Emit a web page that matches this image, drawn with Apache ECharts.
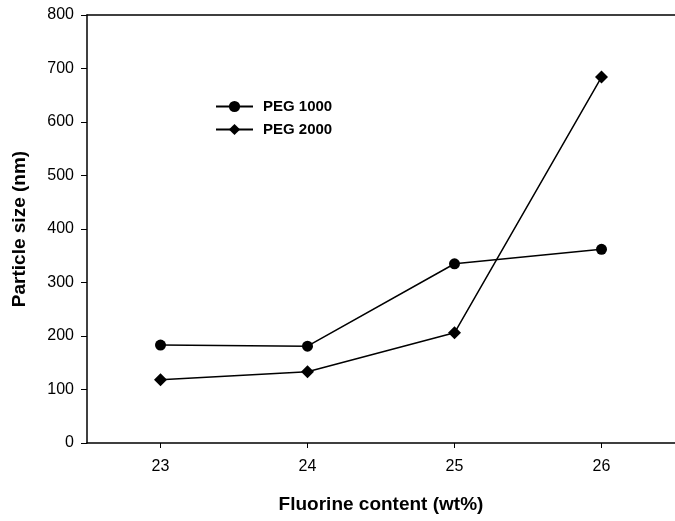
<!DOCTYPE html>
<html><head><meta charset="utf-8">
<script src="https://cdn.jsdelivr.net/npm/echarts@6/dist/echarts.min.js"></script>
<style>html,body{margin:0;padding:0;background:#fff}#c{width:675px;height:521px}</style>
</head><body><div id="c"></div>
<script>
const categories = [23, 24, 25, 26];
const peg1000 = [183, 181, 335, 362];
const peg2000 = [118, 133, 206, 684];
const yTicks = [0, 100, 200, 300, 400, 500, 600, 700, 800];
const seriesNames = ['PEG 1000', 'PEG 2000'];

const chart = echarts.init(document.getElementById('c'));
const font = 'Liberation Sans, Arial, sans-serif';
chart.setOption({
  animation: false,
  backgroundColor: '#fff',
  grid: { left: 87, top: 15, width: 590, height: 428, containLabel: false },
  legend: {
    orient: 'vertical', left: 210, top: 94, itemWidth: 37, itemHeight: 14, itemGap: 8,
    textStyle: { fontFamily: font, fontSize: 15, fontWeight: 'bold', color: '#000', padding: [0, 0, 0, 5] },
    data: seriesNames
  },
  xAxis: [{
    type: 'value', min: 22.5, max: 26.5, interval: 0.5,
    name: 'Fluorine content (wt%)', nameLocation: 'middle', nameGap: 52,
    nameTextStyle: { fontFamily: font, fontSize: 19, fontWeight: 'bold', color: '#000' },
    axisLine: { lineStyle: { color: '#000', width: 1.5 } },
    axisTick: { show: true, length: 5, lineStyle: { color: '#000' },
      customValues: categories },
    axisLabel: { fontFamily: font, fontSize: 16, color: '#000', margin: 16,
      customValues: categories },
    splitLine: { show: false }
  }, {
    type: 'value', position: 'top', min: 22.5, max: 26.5,
    axisLine: { show: true, lineStyle: { color: '#000', width: 1.5 } },
    axisTick: { show: false }, axisLabel: { show: false }, splitLine: { show: false }
  }],
  yAxis: {
    type: 'value', min: 0, max: 800, interval: 100,
    name: 'Particle size (nm)', nameLocation: 'middle', nameGap: 58,
    nameTextStyle: { fontFamily: font, fontSize: 19, fontWeight: 'bold', color: '#000' },
    axisLine: { show: true, lineStyle: { color: '#000', width: 1.5 } },
    axisTick: { show: true, length: 6, lineStyle: { color: '#000' } },
    axisLabel: { fontFamily: font, fontSize: 16, color: '#000', margin: 13,
      formatter: v => yTicks.includes(v) ? String(v) : '' },
    splitLine: { show: false }
  },
  series: [{
    name: seriesNames[0], type: 'line', symbol: 'circle', symbolSize: 11,
    data: categories.map((c, i) => [c, peg1000[i]]),
    lineStyle: { color: '#000', width: 1.5 }, itemStyle: { color: '#000' }
  }, {
    name: seriesNames[1], type: 'line', symbol: 'diamond', symbolSize: 13,
    data: categories.map((c, i) => [c, peg2000[i]]),
    lineStyle: { color: '#000', width: 1.5 }, itemStyle: { color: '#000' }
  }]
});
</script></body></html>
